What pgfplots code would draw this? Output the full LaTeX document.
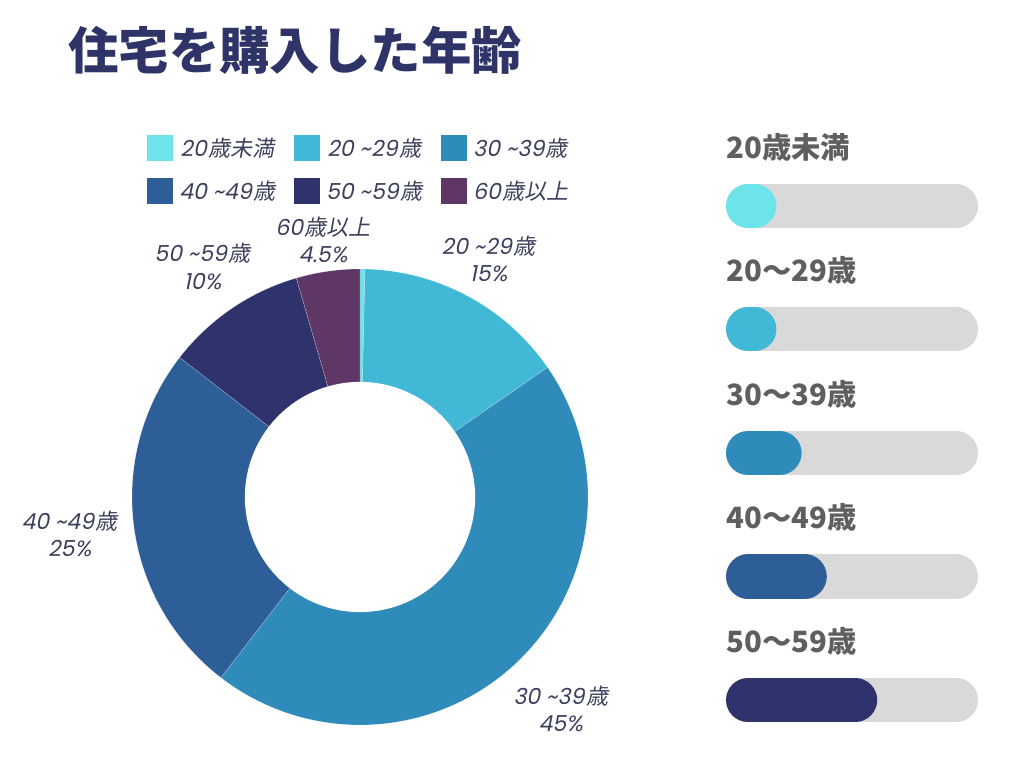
\documentclass[border=0pt]{standalone}
\usepackage{pgfplots}
\pgfplotsset{compat=1.18}
\usepackage{pgfplotstable}
\usepackage{fontspec}
\setmainfont{Noto Sans CJK JP}
\newfontfamily\jpit[FakeSlant=0.2]{Noto Sans CJK JP}
\newfontfamily\latit[FakeSlant=0.2]{Poppins}

\definecolor{slice0}{HTML}{6DE4E9}
\definecolor{slice1}{HTML}{40B8D6}
\definecolor{slice2}{HTML}{2E8BBA}
\definecolor{slice3}{HTML}{2E5E98}
\definecolor{slice4}{HTML}{2F336B}
\definecolor{slice5}{HTML}{5E3766}
\definecolor{barbg}{HTML}{D9D9D9}
\definecolor{titlecol}{HTML}{2E3468}
\definecolor{labelcol}{HTML}{3B3F5C}
\definecolor{barlabel}{HTML}{5F5F5F}

% share of each age group (pie); labr = radius of its outside label
\pgfplotstableread{
value labr
0.35  1.07
15    1.07
45    1.14
25    1.07
10    1.10
4.5   1.035
}\piedata

% progress bars: row (0 = bottom), value in % of the track
\pgfplotstableread{
row value
4 20
3 20
2 30
1 40
0 60
}\bardata

\newcommand{\lt}[1]{{\latit #1}}
\newcommand{\jt}[1]{\kern1.2pt{\jpit #1}}
\newcommand{\tl}{ \textasciitilde}
\expandafter\def\csname plab1\endcsname{\lt{20\tl29}\jt{歳}\\\lt{15\%}}
\expandafter\def\csname plab2\endcsname{\lt{30\tl39}\jt{歳}\\\lt{45\%}}
\expandafter\def\csname plab3\endcsname{\lt{40\tl49}\jt{歳}\\\lt{25\%}}
\expandafter\def\csname plab4\endcsname{\lt{50\tl59}\jt{歳}\\\lt{10\%}}
\expandafter\def\csname plab5\endcsname{\lt{60}\jt{歳以上}\\\lt{4.5\%}}
\newcommand{\labfont}{\fontsize{16.5pt}{20.5pt}\selectfont}

\begin{document}
\begin{tikzpicture}
\useasboundingbox (0,0) rectangle (768pt,576pt);

% total
\pgfmathsetmacro{\total}{0}
\pgfplotsforeachungrouped \i in {0,...,5}{%
  \pgfplotstablegetelem{\i}{value}\of\piedata
  \pgfmathsetmacro{\total}{\total+\pgfplotsretval}%
}

\node[anchor=west, inner sep=0pt, text=titlecol, font=\bfseries\fontsize{37.8pt}{40pt}\selectfont] at (51pt,538.5pt) {住宅を購入した年齢};

\begin{axis}[
  at={(270pt,203.25pt)}, anchor=origin,
  x=171pt, y=171pt,
  xmin=-1, xmax=1, ymin=-1, ymax=1,
  hide axis, clip=false,
  legend columns=3,
  legend style={draw=none, fill=none, at={(axis description cs:0.0329,1.294)}, anchor=north west,
    font=\labfont, text=labelcol, inner sep=0pt, row sep=12.5pt,
    /tikz/every odd column/.append style={column sep=2.5pt},
    /tikz/every even column/.append style={column sep=12pt}},
  legend image code/.code={\fill[#1,draw=none] (0pt,-9.75pt) rectangle (19.5pt,9.75pt);},
  legend entries={{\lt{20}\jt{歳未満}},{\lt{20\tl29}\jt{歳}},{\lt{30\tl39}\jt{歳}},{\lt{40\tl49}\jt{歳}},{\lt{50\tl59}\jt{歳}},{\lt{60}\jt{歳以上}}},
]
\pgfmathsetmacro{\cum}{90}
\pgfplotsforeachungrouped \i in {0,...,5}{%
  \pgfplotstablegetelem{\i}{value}\of\piedata
  \let\val\pgfplotsretval
  \pgfplotstablegetelem{\i}{labr}\of\piedata
  \let\lr\pgfplotsretval
  \pgfmathsetmacro{\b}{\cum-360*\val/\total}%
  \pgfmathsetmacro{\m}{(\cum+\b)/2}%
  \pgfmathsetmacro{\an}{\m+180}%
  \pgfmathsetmacro{\lx}{\lr*cos(\m)}%
  \pgfmathsetmacro{\ly}{\lr*sin(\m)}%
  \edef\temp{\noexpand\addplot[fill=slice\i, draw=white, draw opacity=0.6, line width=0.15pt, domain=\b:\cum, samples=90] ({cos(x)},{sin(x)}) -- (axis cs:0,0) -- cycle;}%
  \temp
  \ifnum\i>0
    \edef\temp{\noexpand\node[anchor=\an, align=center, inner sep=0pt, font=\noexpand\labfont, text=labelcol] at (axis cs:\lx,\ly) {\expandafter\noexpand\csname plab\i\endcsname};}%
    \temp
  \fi
  \let\cum\b
}
\addplot[fill=white, draw=none, domain=0:360, samples=120, forget plot] ({0.505*cos(x)},{0.505*sin(x)}) -- cycle;
\end{axis}

\begin{axis}[
  at={(544.5pt,51pt)}, anchor=origin,
  x=1.89pt, y=92.625pt,
  xmin=0, xmax=100, ymin=0, ymax=4,
  hide axis, clip=false,
]
\def\capr{8.73}
\pgfplotsforeachungrouped \i in {0,...,4}{%
  \pgfplotstablegetelem{\i}{row}\of\bardata
  \let\rw\pgfplotsretval
  \pgfplotstablegetelem{\i}{value}\of\bardata
  \let\val\pgfplotsretval
  \pgfmathsetmacro{\xa}{\capr}%
  \pgfmathsetmacro{\xb}{100-\capr}%
  \pgfmathsetmacro{\xc}{\val-\capr}%
  \edef\temp{\noexpand\addplot[draw=barbg, line width=33pt, line cap=round] coordinates {(\xa,\rw) (\xb,\rw)};
    \noexpand\addplot[draw=slice\i, line width=33pt, line cap=round] coordinates {(\xa,\rw) (\xc,\rw)};}%
  \temp
}
\tikzset{bl/.style={anchor=west, inner sep=0pt, text=barlabel, font=\bfseries\fontsize{22pt}{24pt}\selectfont, yshift=44.25pt}}
\node[bl] at (axis cs:0,4) {20歳未満};
\node[bl] at (axis cs:0,3) {20〜29歳};
\node[bl] at (axis cs:0,2) {30〜39歳};
\node[bl] at (axis cs:0,1) {40〜49歳};
\node[bl] at (axis cs:0,0) {50〜59歳};
\end{axis}
\end{tikzpicture}
\end{document}
